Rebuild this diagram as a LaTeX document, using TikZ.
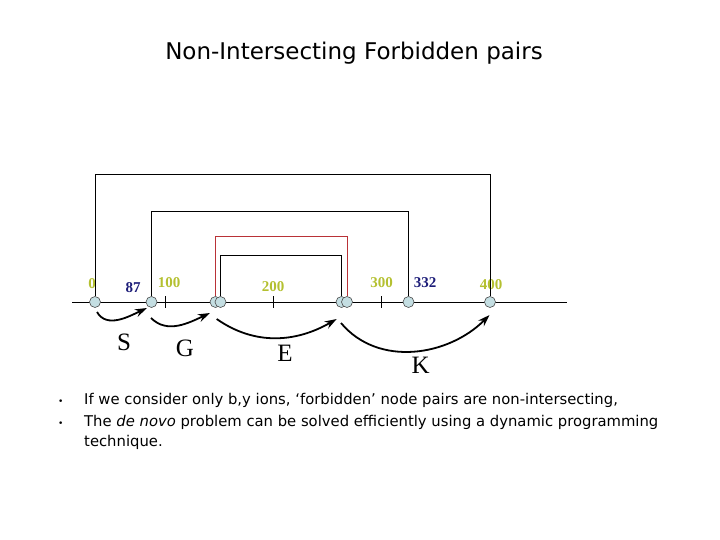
\documentclass[tikz,border=0pt]{standalone}
\usepackage{fontspec}
\setmainfont{Liberation Serif}
\newfontfamily\comicfont{DejaVu Sans}
\usepackage{tikz}
\usetikzlibrary{arrows.meta}

\definecolor{galbui}{RGB}{180,192,48}
\definecolor{bleumar}{RGB}{28,28,120}
\definecolor{rosu}{RGB}{185,50,55}
\definecolor{bulina}{RGB}{196,222,226}

\begin{document}
\begin{tikzpicture}[x=1pt, y=1pt]
        \tikzstyle{every node} = [inner sep=0pt]
        \tikzstyle{nod}        = [circle, draw=black!70, fill=bulina, line width=0.6pt, minimum size=11pt]
        \tikzstyle{valoare}    = [font=\fontsize{15}{15}\selectfont\bfseries, text=galbui]
        \tikzstyle{valmasa}    = [font=\fontsize{15}{15}\selectfont\bfseries, text=bleumar]
        \tikzstyle{litera}     = [font=\fontsize{25}{25}\selectfont]
        \tikzstyle{paranteza}  = [line width=0.8pt]
        \tikzstyle{salt}       = [-{Stealth[length=12pt, width=8pt]}, line width=1.8pt]
        \tikzstyle{paragraf}   = [font=\comicfont\fontsize{14.8}{20.5}\selectfont, anchor=base west, align=left]

        \useasboundingbox (0,0) rectangle (720,-540);

        \node[font=\comicfont\fontsize{23}{23}\selectfont] (titlu) at (354,-53) {Non-Intersecting Forbidden pairs};

        % Axa si gradatiile.
        \def\axa{-302}
        \coordinate (st) at (72,\axa);
        \coordinate (dr) at (567,\axa);
        \draw[paranteza] (st) -- (dr);
        \foreach \x/\v in {165.7/100, 273.3/200, 381.7/300} {
            \coordinate (g\v) at (\x,\axa);
            \draw[paranteza] (g\v) ++(0,6) -- ++(0,-12);
        }

        \node[nod] (p0)   at (95,\axa)    {};
        \node[nod] (p87)  at (151.5,\axa) {};
        \node[nod] (pA)   at (215.5,\axa) {};
        \node[nod] (pB)   at (220.5,\axa) {};
        \node[nod] (pC)   at (341.5,\axa) {};
        \node[nod] (pD)   at (347,\axa)   {};
        \node[nod] (p332) at (408.5,\axa) {};
        \node[nod] (p400) at (490,\axa)   {};

        \node[valoare] (v0)   at (92,-284)  {0};
        \node[valmasa] (v87)  at (133,-288) {87};
        \node[valoare] (v100) at (169,-283) {100};
        \node[valoare] (v200) at (273,-287) {200};
        \node[valoare] (v300) at (381.7,-283) {300};
        \node[valmasa] (v332) at (425,-283) {332};
        \node[valoare] (v400) at (491,-285) {400};

        % Perechile interzise.
        \draw[paranteza] (p0.north) -- ++(0,121.5) -| (p400.north);
        \draw[paranteza] (p87.north) -- ++(0,84.8) -| (p332.north);
        \draw[paranteza, rosu] (pA.north) -- ++(0,59.5) -| (pD.north);
        \draw[paranteza] (pB.north) -- ++(0,40.8) -| (pC.north);

        % Salturile.
        \draw[salt] ([shift={(2,-10)}]p0.center) to[out=-60, in=-155] ([shift={(-4.5,-6)}]p87.center);
        \draw[salt] ([shift={(-0.5,-16)}]p87.center) to[out=-45, in=-155] ([shift={(-5.5,-11)}]pA.center);
        \draw[salt] ([shift={(1.2,-17)}]pA.center) to[out=-35, in=-150] ([shift={(-4.8,-17)}]pC.center);
        \draw[salt] ([shift={(-0.5,-21)}]pC.center) to[out=-50, in=-135] ([shift={(-0.5,-13)}]p400.center);

        \node[litera] (lS) at (124,-342)   {S};
        \node[litera] (lG) at (185,-348)   {G};
        \node[litera] (lE) at (285,-353)   {E};
        \node[litera] (lK) at (420.7,-365) {K};

        % Textul.
        \node[paragraf] (b1) at (58,-404.5) {\small •};
        \node[paragraf] (b2) at (58,-426) {\small •};
        \node[paragraf] (t1) at (84,-404.5) {If we consider only b,y ions, ‘forbidden’ node pairs are non-intersecting,};
        \node[paragraf] (t2) at (84,-446.5) {The \textit{de novo} problem can be solved efficiently using a dynamic programming\\technique.};
    \end{tikzpicture}
\end{document}
